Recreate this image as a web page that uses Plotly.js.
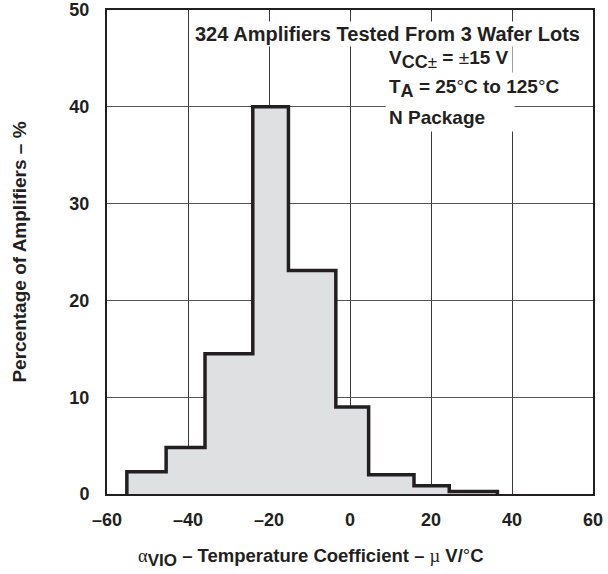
<!DOCTYPE html>
<html>
<head>
<meta charset="utf-8">
<script src="https://cdn.plot.ly/plotly-3.0.1.min.js"></script>
<style>html,body{margin:0;padding:0;background:#fff;}#chart{width:608px;height:574px;}</style>
</head>
<body>
<div id="chart"></div>
<script>
// Bin edges (µV/°C) and percentage of amplifiers in each bin
const binEdges = [-55.1, -45.4, -35.8, -24.0, -15.2, -3.5, 4.6, 15.8, 24.5, 36.4];
const percentages = [2.3, 4.8, 14.5, 40.0, 23.1, 9.0, 2.0, 0.85, 0.25];
const xTickVals = [-60, -40, -20, 0, 20, 40, 60];
const xTickText = ['–60', '–40', '–20', '0', '20', '40', '60'];
const yTickVals = [0, 10, 20, 30, 40, 50];
const yTickText = ['0', '10', '20', '30', '40', '50'];

// Build step outline from bins
const xs = [binEdges[0]];
const ys = [0];
for (let i = 0; i < percentages.length; i++) {
  xs.push(binEdges[i]);
  ys.push(percentages[i]);
}
xs.push(binEdges[binEdges.length - 1]);
ys.push(0);

const FONT = 'Liberation Sans, Arial, sans-serif';
const INK = '#231f20';

const trace = {
  type: 'scatter',
  mode: 'lines',
  x: xs,
  y: ys,
  line: {shape: 'hv', color: INK, width: 3.5},
  fill: 'tozeroy',
  fillcolor: '#dfe0e2',
  hoverinfo: 'skip'
};

const layout = {
  width: 608,
  height: 574,
  margin: {l: 107, r: 15, t: 10, b: 80},
  paper_bgcolor: '#ffffff',
  plot_bgcolor: '#ffffff',
  showlegend: false,
  font: {family: FONT, color: INK},
  xaxis: {
    range: [-60, 60],
    tickvals: xTickVals,
    ticktext: xTickText,
    showgrid: true,
    gridcolor: '#3a3a3a',
    gridwidth: 1,
    zeroline: false,
    showline: true,
    linecolor: INK,
    linewidth: 2,
    mirror: true,
    ticks: '',
    ticklabelstandoff: 8,
    tickfont: {family: FONT, size: 18, color: INK, weight: 'bold'}
  },
  yaxis: {
    range: [0, 50],
    tickvals: yTickVals,
    ticktext: yTickText,
    showgrid: true,
    gridcolor: '#555',
    gridwidth: 1,
    zeroline: false,
    showline: true,
    linecolor: INK,
    linewidth: 2,
    mirror: true,
    ticks: '',
    ticklabelstandoff: 12,
    tickfont: {family: FONT, size: 18, color: INK, weight: 'bold'},
    title: {
      text: '<b>Percentage of Amplifiers – %</b>',
      font: {family: FONT, size: 19, color: INK},
      standoff: 38
    }
  },
  annotations: [
    {
      xref: 'paper', yref: 'paper', x: 0.9774, y: 0.9504,
      xanchor: 'right', yanchor: 'middle', showarrow: false,
      text: '<b>324 Amplifiers Tested From 3 Wafer Lots</b>',
      font: {family: FONT, size: 20, color: INK},
      bgcolor: '#ffffff', borderpad: 1
    },
    {
      xref: 'paper', yref: 'paper', x: 0.572, y: 0.8967,
      xanchor: 'left', yanchor: 'middle', showarrow: false, align: 'left',
      text: '<b>V<sub><span style="font-size:18px">CC</span><span style="font-size:17px;font-weight:normal">±</span></sub> = </b><span style="font-weight:normal">±</span><b>15 V</b>',
      font: {family: FONT, size: 19, color: INK},
      bgcolor: '#ffffff', borderpad: 3
    },
    {
      xref: 'paper', yref: 'paper', x: 0.572, y: 0.8368,
      xanchor: 'left', yanchor: 'middle', showarrow: false, align: 'left',
      text: '<b>T<sub><span style="font-size:18px">A</span></sub> = 25</b><span style="font-weight:normal">°</span><b>C to 125</b><span style="font-weight:normal">°</span><b>C</b>',
      font: {family: FONT, size: 19, color: INK},
      bgcolor: '#ffffff', borderpad: 3
    },
    {
      xref: 'paper', yref: 'paper', x: 0.572, y: 0.777,
      xanchor: 'left', yanchor: 'middle', showarrow: false, align: 'left',
      width: 122,
      text: '<b>N Package</b>',
      font: {family: FONT, size: 19, color: INK},
      bgcolor: '#ffffff', borderpad: 3
    },
    {
      xref: 'paper', yref: 'paper', x: 0.42, y: -0.131,
      xanchor: 'center', yanchor: 'middle', showarrow: false,
      text: '<span style="font-family:Liberation Serif, serif;font-weight:normal">α</span><b><sub><span style="font-size:17px">VIO</span></sub> – Temperature Coefficient – </b><span style="font-family:Liberation Serif, serif;font-weight:normal">µ</span><b> V/</b><span style="font-weight:normal">°</span><b>C</b>',
      font: {family: FONT, size: 18.5, color: INK}
    }
  ]
};

Plotly.newPlot('chart', [trace], layout, {displayModeBar: false, staticPlot: true});
</script>
</body>
</html>
